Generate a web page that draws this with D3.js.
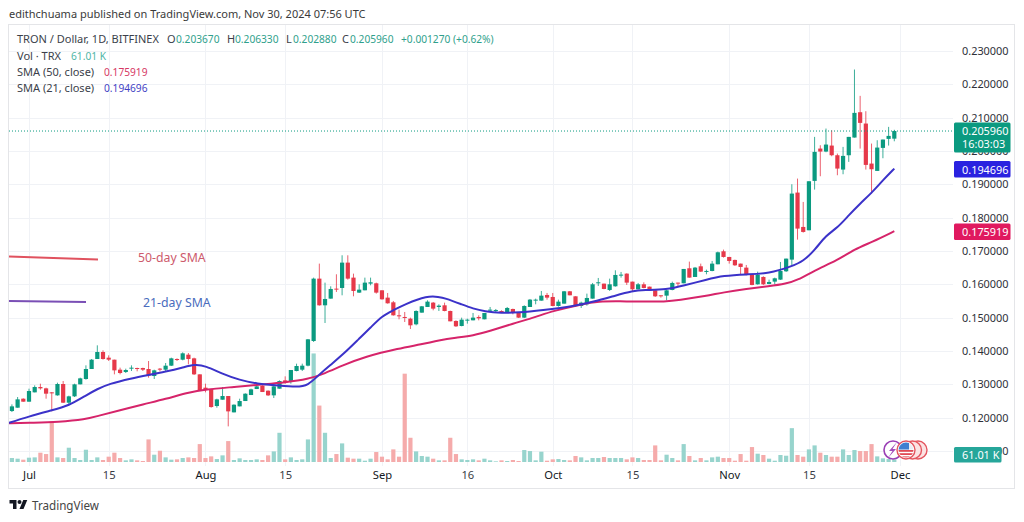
<!DOCTYPE html>
<html><head><meta charset="utf-8">
<script src="https://cdn.jsdelivr.net/npm/d3@7/dist/d3.min.js"></script>
<style>
html,body{margin:0;padding:0;background:#fff;overflow:hidden}
svg{display:block}
text{font-family:"Noto Sans",sans-serif}
</style></head><body>
<svg id="c" width="1024" height="522"></svg>
<script>
const startDay = "2024-06-28";
const opens = [.1220,.1230,.1257,.1248,.1276,.1292,.1288,.1276,.1267,.1301,
.1245,.1264,.1300,.1316,.1346,.1376,.1397,.1380,.1374,.1344,
.1337,.1348,.1349,.1349,.1346,.1325,.1347,.1344,.1356,.1376,
.1374,.1389,.1378,.1330,.1290,.1286,.1235,.1254,.1265,.1216,
.1234,.1250,.1268,.1286,.1296,.1281,.1267,.1287,.1312,.1307,
.1340,.1344,.1356,.1430,.1617,.1537,.1557,.1587,.1589,.1665,
.1620,.1575,.1582,.1602,.1603,.1582,.1560,.1546,.1507,.1502,
.1497,.1480,.1515,.1532,.1545,.1532,.1537,.1520,.1490,.1475,
.1491,.1492,.1502,.1495,.1522,.1520,.1520,.1514,.1526,.1515,
.1500,.1532,.1552,.1551,.1568,.1562,.1535,.1542,.1579,.1564,
.1535,.1540,.1557,.1604,.1602,.1583,.1594,.1627,.1632,.1608,
.1585,.1600,.1593,.1582,.1567,.1566,.1583,.1605,.1603,.1648,
.1622,.1654,.1638,.1640,.1660,.1699,.1682,.1673,.1662,.1650,
.1629,.1600,.1622,.1601,.1608,.1614,.1639,.1674,.1875,.1772,
.1762,.1910,.2007,.1998,.2016,.1987,.1944,.1987,.2040,.2116,
.2082,.1962,.1940,.2009,.2036,.20367];
const highs = [.1240,.1262,.1258,.1287,.1297,.1302,.1290,.1277,.1305,.1310,
.1266,.1302,.1320,.1357,.1376,.1417,.1402,.1387,.1374,.1350,
.1347,.1357,.1350,.1350,.1370,.1344,.1349,.1364,.1380,.1378,
.1396,.1394,.1380,.1330,.1302,.1287,.1257,.1292,.1265,.1240,
.1257,.1273,.1287,.1302,.1297,.1282,.1302,.1312,.1324,.1343,
.1362,.1362,.1436,.1620,.1662,.1605,.1594,.1630,.1687,.1687,
.1632,.1600,.1620,.1620,.1605,.1582,.1574,.1550,.1524,.1517,
.1500,.1522,.1535,.1552,.1547,.1540,.1545,.1521,.1492,.1500,
.1497,.1514,.1507,.1514,.1532,.1526,.1522,.1532,.1527,.1517,
.1537,.1556,.1557,.1580,.1574,.1574,.1554,.1580,.1580,.1564,
.1548,.1572,.1604,.1619,.1602,.1617,.1642,.1637,.1633,.1608,
.1604,.1606,.1593,.1584,.1567,.1584,.1608,.1605,.1646,.1668,
.1652,.1662,.1644,.1670,.1698,.1704,.1682,.1674,.1662,.1658,
.1629,.1638,.1624,.1614,.1620,.1667,.1677,.1900,.1917,.1847,
.1909,.2042,.2017,.2067,.2062,.1992,.2012,.2042,.2244,.2165,
.2119,.2022,.2032,.2034,.2072,.20633];
const lows = [.1217,.1230,.1248,.1248,.1276,.1284,.1257,.1219,.1266,.1244,
.1240,.1262,.1300,.1314,.1346,.1376,.1374,.1370,.1330,.1330,
.1334,.1340,.1339,.1340,.1320,.1316,.1339,.1340,.1355,.1370,
.1372,.1360,.1328,.1280,.1276,.1230,.1230,.1254,.1174,.1216,
.1234,.1250,.1268,.1286,.1277,.1265,.1259,.1287,.1302,.1302,
.1339,.1340,.1354,.1427,.1536,.1484,.1557,.1577,.1567,.1614,
.1564,.1574,.1582,.1597,.1572,.1554,.1542,.1506,.1495,.1487,
.1466,.1477,.1515,.1532,.1522,.1520,.1519,.1489,.1472,.1474,
.1482,.1492,.1492,.1495,.1517,.1516,.1514,.1514,.1510,.1499,
.1499,.1532,.1540,.1551,.1554,.1534,.1533,.1542,.1567,.1532,
.1529,.1536,.1557,.1595,.1585,.1580,.1593,.1620,.1598,.1577,
.1585,.1588,.1580,.1562,.1560,.1552,.1582,.1592,.1603,.1620,
.1622,.1637,.1630,.1639,.1660,.1680,.1662,.1655,.1628,.1627,
.1597,.1599,.1598,.1600,.1600,.1613,.1637,.1657,.1734,.1755,
.1762,.1884,.1924,.1996,.1984,.1927,.1930,.1967,.2040,.2007,
.1944,.1872,.1940,.1978,.2016,.20288];
const closes = [.1234,.1255,.1248,.1280,.1292,.1288,.1272,.1274,.1301,.1245,
.1264,.1300,.1318,.1346,.1374,.1397,.1376,.1374,.1342,.1334,
.1343,.1350,.1346,.1344,.1327,.1342,.1344,.1356,.1378,.1374,
.1393,.1376,.1330,.1282,.1286,.1232,.1255,.1265,.1219,.1239,
.1250,.1272,.1285,.1294,.1277,.1267,.1294,.1310,.1306,.1343,
.1355,.1356,.1435,.1617,.1537,.1556,.1586,.1584,.1665,.1617,
.1580,.1584,.1605,.1606,.1575,.1555,.1543,.1507,.1504,.1499,
.1477,.1520,.1534,.1548,.1527,.1536,.1520,.1489,.1474,.1494,
.1494,.1500,.1498,.1514,.1524,.1523,.1516,.1529,.1514,.1500,
.1535,.1554,.1554,.1566,.1560,.1535,.1548,.1579,.1567,.1536,
.1545,.1559,.1600,.1606,.1586,.1600,.1628,.1629,.1605,.1585,
.1600,.1589,.1582,.1564,.1565,.1582,.1604,.1603,.1646,.1620,
.1650,.1638,.1640,.1662,.1696,.1682,.1670,.1657,.1652,.1629,
.1598,.1629,.1600,.1607,.1618,.1640,.1677,.1872,.1767,.1757,
.1909,.1997,.1998,.2019,.1987,.1947,.1985,.2042,.2114,.2084,
.1958,.1945,.2010,.2034,.2045,.20596];
const volumesK = [91,76,53,99,106,213,182,927,106,91,
327,91,46,281,46,106,46,122,213,91,
38,61,38,23,517,167,258,106,53,61,
91,106,91,410,91,129,68,152,479,46,
84,46,46,61,46,152,243,669,61,106,
46,61,517,2485,1292,669,91,182,426,99,
76,76,30,76,228,122,61,289,122,2022,
555,243,137,122,76,38,38,555,182,61,
46,61,38,76,38,15,38,23,46,23,
274,251,38,236,30,61,68,46,38,137,
106,38,91,91,114,91,91,91,61,106,
91,46,46,380,38,167,91,38,410,137,
38,91,38,106,122,91,91,30,182,30,
342,190,160,76,30,160,144,775,160,122,
289,380,213,160,122,122,289,160,274,251,
251,410,129,84,68,61.01];
const sma21Days = [-4,0,4,7,10,12,14,18,21,24,27,29,31,34,37,40,44,47,49,51,53,55,58,60,62,64,66,70,72,73,76,78,80,83,86,90,96,99,103,106,108,112,115,119,122,126,130,134,136,138,140,142,144,146,148,150,152];
const sma21Values = [.1182,.1204,.1222,.1236,.1267,.1286,.1301,.1318,.1328,.1338,.1350,.1360,.1356,.1331,.1313,.1302,.1296,.1292,.1296,.1330,.1359,.1387,.1437,.1470,.1505,.1522,.1540,.1566,.1562,.1559,.1540,.1527,.1519,.1514,.1515,.1522,.1535,.1547,.1566,.1580,.1583,.1584,.1596,.1614,.1626,.1630,.1632,.1654,.1669,.1702,.1747,.1769,.1807,.1842,.1874,.1912,.194696];
const sma50Days = [-4,1,5,10,12,16,20,24,28,31,36,41,45,49,52,55,59,65,69,72,75,78,81,85,89,92,97,100,104,107,112,114,119,122,126,130,133,135,138,142,145,148,152];
const sma50Values = [.1183,.1185,.1187,.1195,.1205,.1222,.1240,.1256,.1276,.1285,.1292,.1300,.1306,.1315,.1333,.1356,.1383,.1408,.1420,.1432,.1440,.1446,.1460,.1482,.1502,.1520,.1540,.1549,.1549,.1548,.1548,.1552,.1565,.1576,.1586,.1594,.1602,.1612,.1642,.1672,.1705,.1726,.175919];
const priceTicks = [.11,.12,.13,.14,.15,.16,.17,.18,.19,.20,.21,.22,.23];
const timeTickDates = ["2024-07-01","2024-07-15","2024-08-01","2024-08-15","2024-09-01","2024-09-16","2024-10-01","2024-10-15","2024-11-01","2024-11-15","2024-12-01"];
const timeTickLabels = ["Jul","15","Aug","15","Sep","16","Oct","15","Nov","15","Dec"];
const INK="#3b3f4a", VAL="#2f9f8c";
const legendLines = [
  [["TRON / Dollar, 1D, BITFINEX",INK,17,11],["O",INK,167,11],["0.203670",VAL,176,10.2],["H",INK,227,11],["0.206330",VAL,235,10.2],["L",INK,286,11],["0.202880",VAL,293,10.2],["C",INK,342,11],["0.205960",VAL,350,10.2],["+0.001270 (+0.62%)",VAL,401,10.2]],
  [["Vol · TRX",INK,17,11],["61.01 K","#4fb5a6",71,10.2]],
  [["SMA (50, close)",INK,17,11],["0.175919","#d63864",104,10.2]],
  [["SMA (21, close)",INK,17,11],["0.194696","#3f3fc4",104,10.2]]
];

const parse = d3.utcParse("%Y-%m-%d");
const day0 = parse(startDay), jul1 = parse("2024-07-01");
const bars = opens.map((o,i)=>({date:d3.utcDay.offset(day0,i),o,h:highs[i],l:lows[i],c:closes[i],v:volumesK[i]}));

const paneL=9, paneR=1014, paneT=25, paneB=488, plotR=953, gridB=466;
const x = d3.scaleUtc().domain([jul1,parse("2024-12-01")]).range([29,900]);
const y = d3.scaleLinear().domain([.11,.23]).range([451.05,50.85]);
const yVol = d3.scaleLinear().domain([0,2500]).range([462,352.8]);
const up="#0b9a80", dn="#e6394a", upV="#97d4cd", dnV="#f5abab";

const svg = d3.select("#c");
svg.append("rect").attr("width",1024).attr("height",522).attr("fill","#fff");
svg.append("defs").append("clipPath").attr("id","pane").append("rect")
  .attr("x",paneL).attr("y",paneT).attr("width",plotR-paneL).attr("height",paneB-paneT);

svg.append("rect").attr("x",paneL-.5).attr("y",paneT-.5).attr("width",paneR-paneL+1).attr("height",paneB-paneT+1)
  .attr("fill","#fff").attr("stroke","#e4e5e8");

// grid
const grid = svg.append("g");
grid.selectAll(".h").data(priceTicks).join("line").attr("x1",paneL).attr("x2",plotR)
  .attr("y1",d=>Math.round(y(d))+.5).attr("y2",d=>Math.round(y(d))+.5).attr("stroke","#f0f2f6");
grid.selectAll(".v").data(timeTickDates).join("line")
  .attr("x1",d=>Math.round(x(parse(d)))+.5).attr("x2",d=>Math.round(x(parse(d)))+.5)
  .attr("y1",paneT).attr("y2",gridB).attr("stroke","#f0f2f6");

const plot = svg.append("g").attr("clip-path","url(#pane)");
const bw = 4.2;
// volume
plot.selectAll(".vol").data(bars).join("rect").attr("class","vol")
  .attr("x",d=>x(d.date)-bw/2).attr("width",bw)
  .attr("y",d=>yVol(d.v)).attr("height",d=>yVol(0)-yVol(d.v))
  .attr("fill",d=>d.c>=d.o?upV:dnV);

// annotation lines
plot.append("line").attr("x1",9).attr("y1",256.5).attr("x2",98).attr("y2",259.5).attr("stroke","#e0525f").attr("stroke-width",2);
plot.append("line").attr("x1",9).attr("y1",301).attr("x2",86).attr("y2",302).attr("stroke","#7a4fb5").attr("stroke-width",2);

// candles
const cg = plot.selectAll(".cd").data(bars).join("g").attr("class","cd")
  .attr("fill",d=>d.c>=d.o?up:dn).attr("stroke",d=>d.c>=d.o?up:dn);
cg.append("line").attr("x1",d=>x(d.date)).attr("x2",d=>x(d.date)).attr("y1",d=>y(d.h)).attr("y2",d=>y(d.l)).attr("stroke-width",1).attr("stroke-opacity",.8);
cg.append("rect").attr("x",d=>x(d.date)-bw/2).attr("width",bw)
  .attr("y",d=>y(Math.max(d.o,d.c))).attr("height",d=>Math.max(1,Math.abs(y(d.o)-y(d.c)))).attr("stroke","none");

// SMA lines
const line = d3.line().x(d=>x(d3.utcDay.offset(jul1,d[0]))).y(d=>y(d[1])).curve(d3.curveBasis);
plot.append("path").attr("d",line(sma50Days.map((d,i)=>[d,sma50Values[i]]))).attr("fill","none").attr("stroke","#d6246a").attr("stroke-width",2);
plot.append("path").attr("d",line(sma21Days.map((d,i)=>[d,sma21Values[i]]))).attr("fill","none").attr("stroke","#3b32c9").attr("stroke-width",2);

// last price dotted
plot.append("line").attr("x1",paneL).attr("x2",plotR).attr("y1",y(.20596)).attr("y2",y(.20596))
  .attr("stroke","#0b9a80").attr("stroke-width",1).attr("stroke-dasharray","1 2");

// annotation text
svg.append("text").attr("x",138).attr("y",261.5).attr("font-size",12.3).attr("fill","#cd5a6c").text("50-day SMA");
svg.append("text").attr("x",143).attr("y",306.5).attr("font-size",12.3).attr("fill","#4a6cbd").text("21-day SMA");

// event icons
const ev = svg.append("g");
[918,912.5].forEach(cx=>{
  ev.append("circle").attr("cx",cx).attr("cy",450).attr("r",9).attr("fill","#fbe3e3").attr("stroke","#e4555f").attr("stroke-width",1.4);
});
ev.append("circle").attr("cx",893).attr("cy",450).attr("r",9).attr("fill","#fff").attr("stroke","#9a3fb5").attr("stroke-width",1.6);
ev.append("path").attr("d","M897 442 L889 451 L892.5 451 L888 458 L896 449 L892.5 449 Z").attr("fill","#a24dbb");
ev.append("circle").attr("cx",906).attr("cy",450).attr("r",9).attr("fill","#fff").attr("stroke","#e4555f").attr("stroke-width",1.4);
ev.append("clipPath").attr("id","flag").append("circle").attr("cx",906).attr("cy",450).attr("r",7.5);
const fl = ev.append("g").attr("clip-path","url(#flag)");
d3.range(0,3).forEach(k=>fl.append("rect").attr("x",898).attr("y",450+k*3.2).attr("width",16).attr("height",1.8).attr("fill","#e04a55"));
fl.append("rect").attr("x",898).attr("y",442).attr("width",16).attr("height",7.5).attr("fill","#e9eef5");
fl.append("rect").attr("x",898).attr("y",442).attr("width",11).attr("height",7.5).attr("fill","#3f7fd0");

// price axis
const axisR = d3.axisRight(y).tickValues(priceTicks).tickFormat(d3.format(".6f")).tickSize(0).tickPadding(0);
const gr = svg.append("g").attr("transform","translate(962,0)").call(axisR);
gr.select(".domain").remove();
gr.selectAll("text").attr("font-size",10.9).attr("fill","#2e3038").attr("font-family",'"Noto Sans",sans-serif').attr("dy","0.32em");

// time axis
const tickD = timeTickDates.map(parse);
const axisB = d3.axisBottom(x).tickValues(tickD).tickFormat((d,i)=>timeTickLabels[i]).tickSize(0).tickPadding(0);
const gb = svg.append("g").attr("transform","translate(0,471)").call(axisB);
gb.select(".domain").remove();
gb.selectAll("text").attr("font-size",11.2).attr("fill",(d,i)=>isNaN(+timeTickLabels[i])?"#131722":"#3a3d46").attr("font-family",'"Noto Sans",sans-serif').attr("dy","0.71em");

// price boxes
function box(x0,y0,w,h,c){svg.append("rect").attr("x",x0).attr("y",y0).attr("width",w).attr("height",h).attr("rx",1.5).attr("fill",c);}
function lab(tx,ty,s){svg.append("text").attr("x",tx).attr("y",ty).attr("font-size",10.9).attr("fill","#fff").text(s);}
box(954,122.5,56.5,30,"#0b9a80"); lab(962,135,"0.205960"); lab(962,148,"16:03:03");
box(954,161,56.5,16.5,"#2a22e0"); lab(962,173.5,"0.194696");
box(954,223.5,56.5,16.5,"#e0195f"); lab(962,236,"0.175919");
box(954,447,47.5,15.5,"#26a69a"); lab(962,459,"61.01 K");

// header text
svg.append("text").attr("x",9).attr("y",18).attr("font-size",11).attr("fill","#3a3a3a").text("edithchuama published on TradingView.com, Nov 30, 2024 07:56 UTC");
const ly=[43,60,76,92];
legendLines.forEach((l,i)=>{
  const t = svg.append("text").attr("y",ly[i]);
  l.forEach(p=>t.append("tspan").attr("x",p[2]).attr("fill",p[1]).attr("font-size",p[3]).text(p[0]));
});

// TradingView logo
svg.append("path").attr("transform","translate(9.5,498) scale(.5)")
  .attr("d","M14 22H7V11H0V4h14v18zM28 22h-8l7.5-18h8L28 22z").attr("fill","#131722");
svg.append("circle").attr("cx",19.5).attr("cy",502).attr("r",2).attr("fill","#131722");
svg.append("text").attr("x",32).attr("y",510).attr("font-size",13).attr("fill","#444").attr("textLength",67).attr("lengthAdjust","spacingAndGlyphs").text("TradingView");
</script>
</body></html>
